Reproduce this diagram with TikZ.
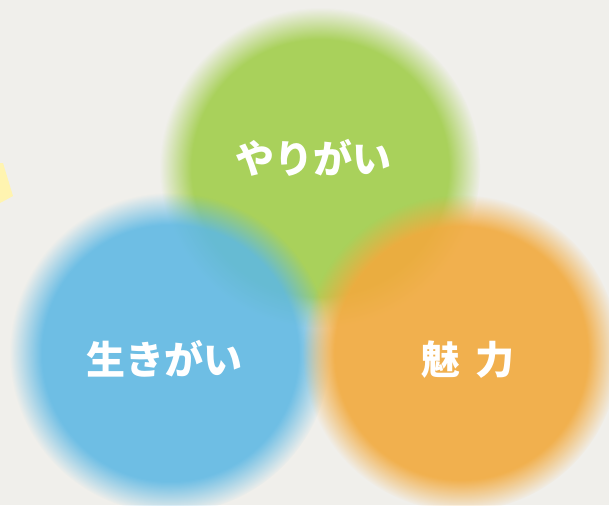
\documentclass[tikz,border=0pt]{standalone}
\usepackage{tikz}
\usepackage{xcolor}
\usepackage{fontspec}
\usetikzlibrary{fadings}
\newfontfamily\jpfont{Noto Sans CJK JP}
\definecolor{paper}{HTML}{F0EFEB}
\definecolor{leafgreen}{HTML}{A9D15B}
\definecolor{skyblue}{HTML}{5DB8E4}
\definecolor{sunorange}{HTML}{F2AA3E}
\definecolor{paleyellow}{HTML}{FFF4B0}

\begin{document}
\begin{tikzpicture}[x=1pt, y=-1pt,
  blob/.style={path fading=circle with fuzzy edge 20 percent},
  every node/.style={font=\jpfont\bfseries\fontsize{39}{46}\selectfont, text=white}]
% background
\fill[paper] (0,0) rectangle (609,505);
\useasboundingbox (0,0) rectangle (609,505);
\fill[paleyellow] (0,163) -- (3,163) -- (13,196) -- (0,203) -- cycle;
% circles
\fill[leafgreen, blob] (320,168) circle (160);
\fill[skyblue, blob, opacity=0.88] (170,353) circle (160);
\fill[sunorange, blob, opacity=0.9] (461,353) circle (158);
% labels
\node (yarigai) at (313,158) {やりがい};
\node (ikigai) at (164,359) {生きがい};
\node (miryoku) at (468,360) {魅\hspace{0.4em}力};
\end{tikzpicture}
\end{document}
